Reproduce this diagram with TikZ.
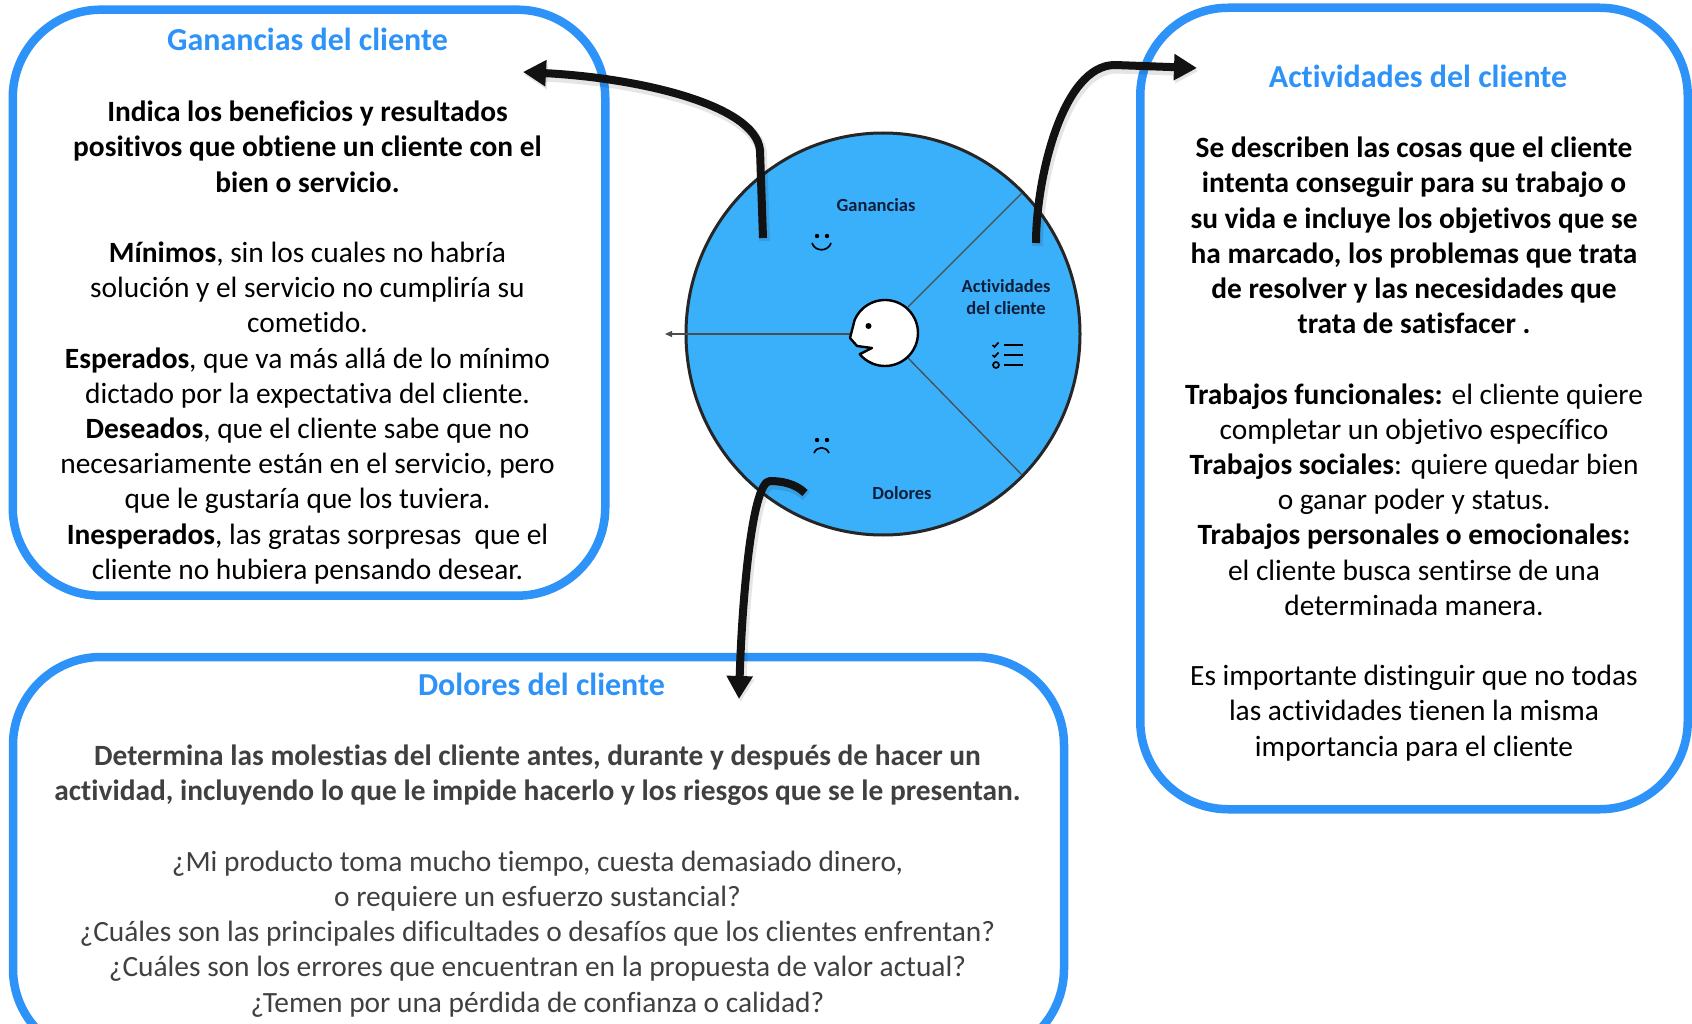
\documentclass[tikz,border=0pt]{standalone}
\usepackage{fontspec}
\usepackage{xcolor}
\setmainfont{Carlito}[Ligatures=CommonOff]
\usetikzlibrary{arrows.meta, positioning, calc, shapes.geometric}
\definecolor{boxblue}{HTML}{2E93F8}
\definecolor{wheelblue}{HTML}{3AB0FB}
\definecolor{wheelink}{HTML}{0E1E3A}
\begin{document}
\begin{tikzpicture}[
  x=1pt, y=1pt,
  font=\fontsize{29.4}{35.2}\selectfont,
  >=Latex,
  panel/.style={
    draw=boxblue, line width=8.5pt, rounded corners=88pt, fill=white
  },
  heading/.style={font=\fontsize{32}{35.2}\selectfont\bfseries, text=boxblue, inner sep=0pt},
  body/.style={align=center, inner sep=0pt},
  wheellab/.style={font=\fontsize{18.5}{22}\selectfont\bfseries, text=wheelink, align=center, inner sep=0pt},
  spoke/.style={draw=black!70, line width=1.3pt},
  icon/.style={draw=black, line width=1.7pt},
  arr/.style={
    -{Triangle[length=23pt,width=25pt]}, line width=8pt, draw=black!93,
    line join=round,
    preaction={draw=black, opacity=0.10, line width=11pt,
      transform canvas={shift={(1.5,-3)}}}
  }
]
  \useasboundingbox (0,0) rectangle (1692,-1024);
  \fill[white] (0,0) rectangle (1692,-1024);

  \node[panel, minimum width=592.5pt, minimum height=586pt] (ganbox) at (309,-302.7) {};
  \node[panel, minimum width=1051pt, minimum height=400pt] (dolbox) at (538.5,-857) {};
  \node[panel, minimum width=547.5pt, minimum height=801.5pt] (actbox) at (1414,-408.5) {};

  \node[heading] (gantitle) at (307.5,-39) {Ganancias del cliente};
  \node[heading] (doltitle) at (541.5,-684) {Dolores del cliente};
  \node[heading] (acttitle) at (1418,-76) {Actividades del cliente};

  \node[body] (gantext) at (307.5,-342.5) {\textbf{Indica los beneficios y resultados}\\
    \textbf{positivos que obtiene un cliente con el}\\
    \textbf{bien o servicio.}\\[35.2pt]
    \textbf{Mínimos}, sin los cuales no habría\\
    solución y el servicio no cumpliría su\\
    cometido.\\
    \textbf{Esperados}, que va más allá de lo mínimo\\
    dictado por la expectativa del cliente.\\
    \textbf{Deseados}, que el cliente sabe que no\\
    necesariamente están en el servicio, pero\\
    que le gustaría que los tuviera.\\
    \textbf{Inesperados}, las gratas sorpresas\ \ que el\\
    cliente no hubiera pensando desear.};

  \node[body, text=black!75] (doltext) at (537.5,-881) {\textbf{Determina las molestias del cliente antes, durante y después de hacer un}\\
    \textbf{actividad, incluyendo lo que le impide hacerlo y los riesgos que se le presentan.}\\[35.2pt]
    ¿Mi producto toma mucho tiempo, cuesta demasiado dinero,\\
    o requiere un esfuerzo sustancial?\\
    ¿Cuáles son las principales dificultades o desafíos que los clientes enfrentan?\\
    ¿Cuáles son los errores que encuentran en la propuesta de valor actual?\\
    ¿Temen por una pérdida de confianza o calidad?};

  \node[body] (acttext) at (1414,-449) {\textbf{Se describen las cosas que el cliente}\\
    \textbf{intenta conseguir para su trabajo o}\\
    \textbf{su vida e incluye los objetivos que se}\\
    \textbf{ha marcado, los problemas que trata}\\
    \textbf{de resolver y las necesidades que}\\
    \textbf{trata de satisfacer .}\\[35.2pt]
    \textbf{Trabajos funcionales:} el cliente quiere\\
    completar un objetivo específico\\
    \textbf{Trabajos sociales}: quiere quedar bien\\
    o ganar poder y status.\\
    \textbf{Trabajos personales o emocionales:}\\
    el cliente busca sentirse de una\\
    determinada manera.\\[35.2pt]
    Es importante distinguir que no todas\\
    las actividades tienen la misma\\
    importancia para el cliente};

  \node[ellipse, draw=black!85, line width=3pt, fill=wheelblue, minimum width=394pt, minimum height=402pt, inner sep=0pt] (wheel) at (883,-334) {};

  \coordinate (faceleft) at (850,-334);
  \coordinate (spokeup) at (908,-307);
  \coordinate (spokedown) at (908,-358);
  \coordinate (wheelup) at (1022,-193);
  \coordinate (wheeldown) at (1022,-475);
  \coordinate (spokeend) at (665,-334);
  \draw[spoke] (spokeup) -- (wheelup);
  \draw[spoke] (spokedown) -- (wheeldown);
  \draw[spoke, -{Triangle[length=7pt,width=6pt]}] (faceleft) -- (spokeend);

  % head outline with nose and mouth notch
  \draw[fill=white, line width=2.4pt, line join=round] (854.6,-320.1) arc[start angle=157, end angle=-140, radius=33]
    -- (872,-348) -- (857,-346) -- (850,-338) -- cycle;
  \node[circle, fill=black, minimum size=6pt, inner sep=0pt] (faceeye) at (868.5,-326) {};

  \node[wheellab] (ganlab) at (876,-205) {Ganancias};
  \node[wheellab] (actlab) at (1006,-297) {Actividades\\del cliente};
  \node[wheellab] (dollab) at (902,-493) {Dolores};

  % happy and sad faces
  \fill (817,-236) circle (2.2) (827,-236) circle (2.2);
  \draw[icon] (812,-243) .. controls (815,-252) and (828,-252) .. (831,-243);
  \fill (817,-440) circle (2.2) (827,-440) circle (2.2);
  \draw[icon] (814,-453) .. controls (817,-446) and (826,-446) .. (829,-453);

  % task list
  \foreach \yy in {345,355,365}
    \draw[icon, line width=2.2pt] (1004,-\yy) -- (1023,-\yy);
  \foreach \yy in {345,355}
    \draw[icon] (992.5,-\yy) -- (994.5,-\yy-2) -- (998.5,-\yy+2.5);
  \draw[icon] (996,-365) circle (3);

  \coordinate (ganstart) at (763,-238);
  \coordinate (gantip) at (523,-72);
  \coordinate (actstart) at (1036,-243);
  \coordinate (acttip) at (1197,-68);
  \coordinate (dolstart) at (805,-493);
  \coordinate (doltip) at (739,-699);

  \draw[arr] (ganstart) -- (760,-150) .. controls (755,-105) and (640,-78) .. (gantip);
  \draw[arr] (actstart) .. controls (1036,-180) and (1062,-65) .. (1115,-65) -- (acttip);
  \draw[arr] (dolstart) .. controls (795,-483) and (780,-481) .. (770,-481)
    .. controls (752,-481) and (742,-600) .. (doltip);
\end{tikzpicture}
\end{document}
